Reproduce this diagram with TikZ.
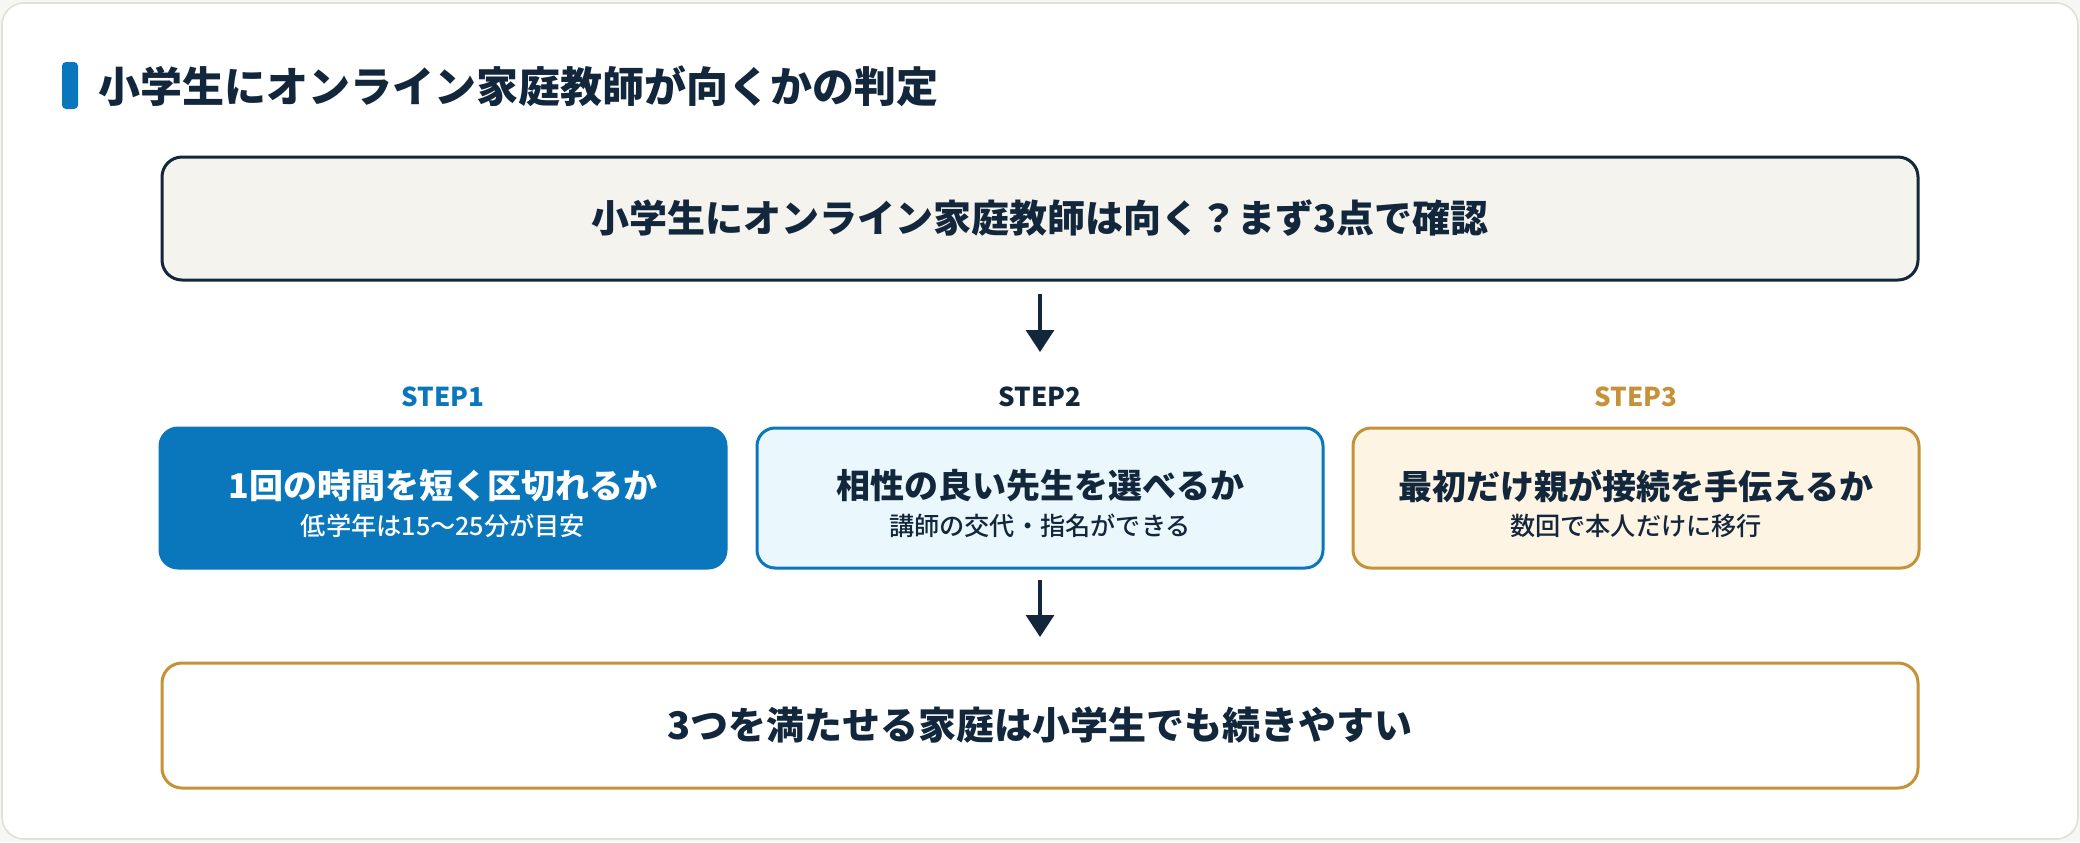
\documentclass[tikz,border=0pt]{standalone}
\usepackage{fontspec}
\setmainfont{Noto Sans CJK JP}
\newfontfamily\jpmedium{Noto Sans CJK JP Medium}
\usetikzlibrary{arrows.meta}

\definecolor{navy}{HTML}{13273C}
\definecolor{accent}{HTML}{0A76BB}
\definecolor{pale}{HTML}{EAF7FD}
\definecolor{gold}{HTML}{C5923A}
\definecolor{cream}{HTML}{FDF4E4}
\definecolor{paper}{HTML}{F4F3EE}
\definecolor{cardline}{HTML}{E2E0D5}
\definecolor{pagebg}{HTML}{F6F6F2}

\begin{document}
\begin{tikzpicture}[x=0.5pt,y=-0.5pt,
  every node/.style={inner sep=0pt, text=navy},
  box/.style={draw, line width=1.5pt, rounded corners=9pt, minimum width=283pt, minimum height=70pt},
  wide/.style={draw=navy, line width=1.5pt, rounded corners=10pt, minimum width=878pt, font=\bfseries\fontsize{19}{23}\selectfont},
  head/.style={font=\bfseries\fontsize{17}{20}\selectfont},
  note/.style={font=\jpmedium\fontsize{12.6}{15}\selectfont},
  steplabel/.style={font=\bfseries\fontsize{13}{16}\selectfont},
  flow/.style={draw=navy, line width=1.6pt, -{Triangle[length=11pt,width=14pt]}}]

% Page and card
\fill[pagebg] (0,0) rectangle (2080,842);
\filldraw[fill=white, draw=cardline, line width=0.8pt, rounded corners=11pt] (2,3) rectangle (2078,839);

% Title
\node[fill=accent, minimum width=8pt, minimum height=23.5pt, rounded corners=2pt] (bar) at (70,85.5) {};
\node[anchor=west, font=\bfseries\fontsize{21}{25}\selectfont] (title) at (98,86) {小学生にオンライン家庭教師が向くかの判定};

% Question
\node[wide, fill=paper, minimum height=61.5pt] (question) at (1040,218.5) {小学生にオンライン家庭教師は向く？まず3点で確認};

% Step labels
\node[steplabel, text=accent] (lab1) at ( 443,397) {STEP1};
\node[steplabel]              (lab2) at (1040,397) {STEP2};
\node[steplabel, text=gold]   (lab3) at (1636,397) {STEP3};

% Step boxes
\node[box, draw=accent, fill=accent] (step1) at ( 443,498) {};
\node[box, draw=accent, fill=pale]   (step2) at (1040,498) {};
\node[box, draw=gold, fill=cream]    (step3) at (1636,498) {};

\node[head, text=white] (step1h) at ( 443,486) {1回の時間を短く区切れるか};
\node[note, text=white] (step1n) at ( 443,526) {低学年は15〜25分が目安};
\node[head]             (step2h) at (1040,486) {相性の良い先生を選べるか};
\node[note]             (step2n) at (1040,526) {講師の交代・指名ができる};
\node[head]             (step3h) at (1636,486) {最初だけ親が接続を手伝えるか};
\node[note]             (step3n) at (1636,526) {数回で本人だけに移行};

% Result
\node[wide, draw=gold, fill=white, minimum height=62.5pt] (result) at (1040,725.5) {3つを満たせる家庭は小学生でも続きやすい};

% Arrows
\draw[flow, shorten <=6.25pt, shorten >=37.25pt] (question) -- (step2);
\draw[flow, shorten <=5.25pt, shorten >=12.25pt] (step2) -- (result);

\end{tikzpicture}
\end{document}
